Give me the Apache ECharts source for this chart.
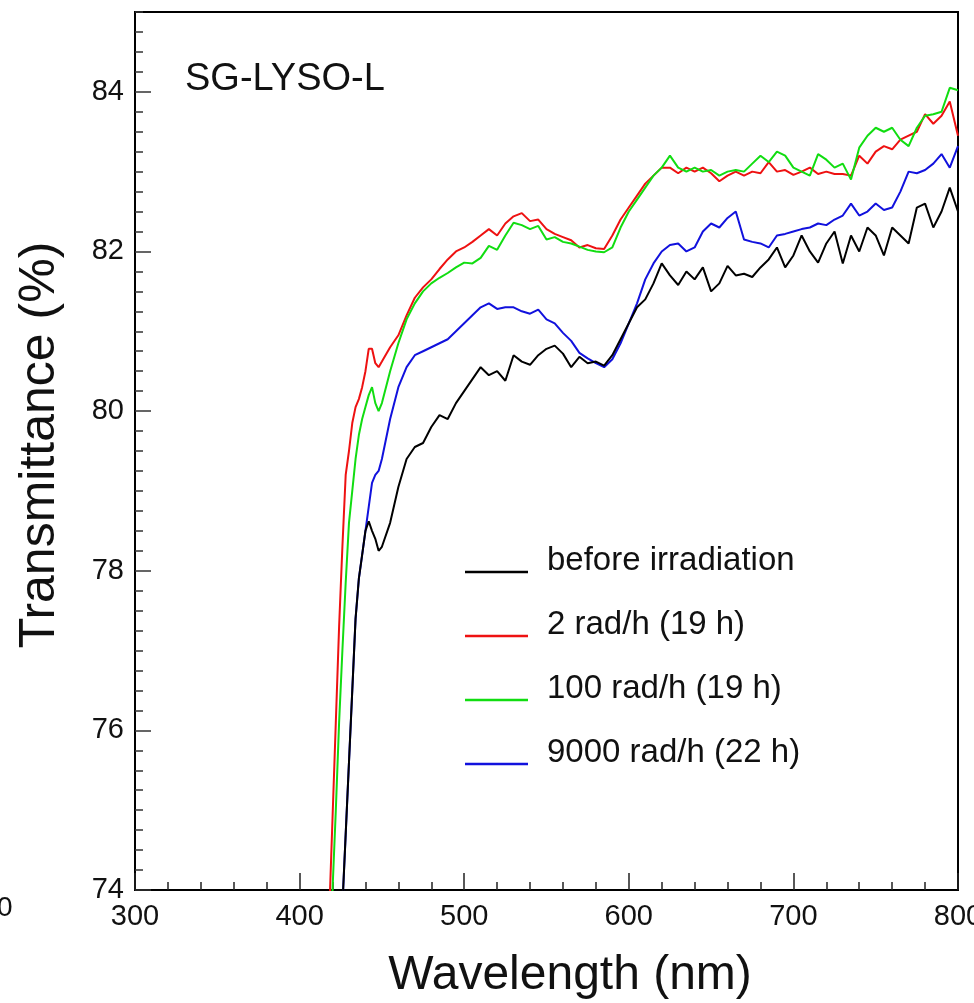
<!DOCTYPE html>
<html>
<head>
<meta charset="utf-8">
<script src="https://cdn.jsdelivr.net/npm/echarts@6/dist/echarts.min.js"></script>
<style>html,body{margin:0;padding:0;background:#fff;}#c{width:974px;height:1003px;}</style>
</head>
<body>
<div id="c"></div>
<script>
// Wavelength grid (nm)
var wavelength = [416,418,420,422,424,426,428,430,432,434,436,438,440,442,444,446,448,450,
  455,460,465,470,475,480,485,490,495,500,505,510,515,520,525,530,535,540,545,550,555,560,565,570,575,580,585,590,595,600,
  605,610,615,620,625,630,635,640,645,650,655,660,665,670,675,680,685,690,695,700,705,710,715,720,725,730,735,740,745,750,
  755,760,765,770,775,780,785,790,795,800];

var seriesNames = ['before irradiation', '2 rad/h (19 h)', '100 rad/h (19 h)', '9000 rad/h (22 h)'];

var beforeIrr = [68.0,69.0,70.0,71.0,72.8,73.8,74.7,75.6,76.5,77.4,77.9,78.2,78.5,78.62,78.5,78.4,78.25,78.3,
  78.6,79.05,79.4,79.55,79.6,79.8,79.95,79.9,80.1,80.25,80.4,80.55,80.45,80.5,80.38,80.7,80.62,80.58,80.7,80.78,80.82,80.72,80.55,80.68,80.6,80.62,80.57,80.7,80.9,81.1,
  81.3,81.4,81.6,81.85,81.7,81.58,81.75,81.65,81.8,81.5,81.6,81.82,81.7,81.72,81.68,81.8,81.9,82.05,81.8,81.95,82.2,82.0,81.86,82.1,82.25,81.85,82.2,82.0,82.3,82.2,
  81.95,82.3,82.2,82.1,82.55,82.6,82.3,82.5,82.8,82.5];

var rad2 = [72.5,73.7,74.9,76.1,77.3,78.3,79.2,79.5,79.85,80.05,80.15,80.3,80.5,80.78,80.78,80.6,80.55,80.62,
  80.8,80.95,81.2,81.42,81.55,81.65,81.78,81.9,82.0,82.05,82.12,82.2,82.28,82.2,82.35,82.44,82.48,82.38,82.4,82.28,82.22,82.18,82.14,82.05,82.08,82.04,82.03,82.2,82.4,82.55,
  82.7,82.85,82.95,83.05,83.05,82.98,83.05,83.0,83.05,82.98,82.88,82.95,83.0,82.95,83.0,82.98,83.12,83.0,83.02,82.96,83.0,83.05,82.97,83.0,82.97,82.97,82.95,83.2,83.1,83.25,
  83.32,83.28,83.4,83.45,83.5,83.72,83.6,83.7,83.88,83.45];

var rad100 = [71.8,73.0,74.0,75.0,76.1,77.0,77.85,78.6,79.0,79.4,79.7,79.9,80.05,80.2,80.3,80.1,80.0,80.1,
  80.5,80.85,81.15,81.35,81.5,81.6,81.67,81.73,81.8,81.86,81.85,81.92,82.07,82.02,82.2,82.36,82.33,82.28,82.32,82.15,82.18,82.12,82.1,82.06,82.02,82.0,81.99,82.05,82.3,82.5,
  82.65,82.8,82.95,83.05,83.2,83.05,83.0,83.05,83.0,83.02,82.95,83.0,83.02,83.0,83.1,83.2,83.12,83.25,83.2,83.05,83.0,82.95,83.22,83.15,83.05,83.1,82.9,83.3,83.45,83.55,
  83.5,83.55,83.4,83.32,83.55,83.7,83.72,83.75,84.05,84.02];

var rad9000 = [68.0,69.0,70.0,71.0,72.8,73.8,74.7,75.6,76.5,77.4,77.9,78.2,78.5,78.8,79.1,79.2,79.25,79.4,
  79.9,80.3,80.55,80.7,80.75,80.8,80.85,80.9,81.0,81.1,81.2,81.3,81.35,81.28,81.3,81.3,81.25,81.22,81.27,81.15,81.1,80.98,80.88,80.73,80.66,80.6,80.55,80.65,80.85,81.1,
  81.35,81.65,81.85,82.0,82.08,82.1,82.0,82.05,82.25,82.35,82.3,82.42,82.5,82.15,82.12,82.1,82.05,82.2,82.22,82.25,82.28,82.3,82.35,82.33,82.4,82.45,82.6,82.45,82.5,82.6,
  82.52,82.55,82.75,83.0,82.98,83.02,83.1,83.22,83.05,83.32];

var xTicks = {min: 300, max: 800, step: 100};
var yTicks = {min: 74, max: 85, step: 2};
var colors = ['#000000', '#ee1111', '#11dd11', '#1111dd'];

function pairs(vals) { return wavelength.map(function (w, i) { return [w, vals[i]]; }); }

var chart = echarts.init(document.getElementById('c'), null, {renderer: 'canvas'});
var FONT = 'Liberation Sans, Arial, Helvetica, sans-serif';
var legendIcon = 'path://M0,0 M63,0 M0,23 L63,23 L63,25.5 L0,25.5 Z';

chart.setOption({
  animation: false,
  backgroundColor: '#ffffff',
  grid: {left: 135, right: 16, top: 12, bottom: 113, show: true, borderColor: '#000', borderWidth: 2,
         backgroundColor: 'transparent', containLabel: false, outerBoundsMode: 'none'},
  xAxis: [{
    type: 'value', min: xTicks.min, max: xTicks.max, interval: xTicks.step, position: 'bottom',
    axisLine: {lineStyle: {color: '#000', width: 2}},
    axisTick: {inside: true, length: 17, lineStyle: {color: '#222', width: 1.5}},
    minorTick: {show: true, splitNumber: 5, length: 8, lineStyle: {color: '#222', width: 1.5}},
    axisLabel: {fontSize: 29, color: '#111', margin: 12, fontFamily: FONT},
    splitLine: {show: false}, minorSplitLine: {show: false}
  }],
  yAxis: [{
    type: 'value', min: yTicks.min, max: yTicks.max, interval: yTicks.step, position: 'left',
    axisLine: {show: true, lineStyle: {color: '#000', width: 2}},
    axisTick: {show: true, inside: true, length: 16, lineStyle: {color: '#333', width: 1.5}},
    axisLabel: {fontSize: 29, color: '#111', margin: 11, fontFamily: FONT, showMaxLabel: false},
    splitLine: {show: false}
  }, {
    type: 'value', min: yTicks.min, max: yTicks.max, interval: 0.25, position: 'left', offset: 0,
    axisLine: {show: false},
    axisTick: {show: true, inside: true, length: 8, lineStyle: {color: '#333', width: 1.5}},
    axisLabel: {show: false},
    splitLine: {show: false}
  }],
  legend: {
    orient: 'vertical', left: 465, top: 544, padding: 0,
    itemWidth: 63, itemHeight: 25.5, itemGap: 31, icon: legendIcon,
    textStyle: {fontSize: 33, color: '#111', fontFamily: FONT, lineHeight: 31, padding: [0, 0, 0, 14]},
    data: seriesNames,
    selectedMode: false
  },
  graphic: [
    {type: 'text', left: 185, top: 61, style: {text: 'SG-LYSO-L', font: '38px ' + FONT, fill: '#111'}},
    {type: 'text', x: 40, y: 445, rotation: Math.PI / 2, style: {text: 'Transmittance (%)', font: '50px ' + FONT, fill: '#111', align: 'center', verticalAlign: 'middle'}},
    {type: 'text', x: 570, y: 976, style: {text: 'Wavelength (nm)', font: '48px ' + FONT, fill: '#111', align: 'center', verticalAlign: 'middle'}},
    {type: 'text', x: -3, y: 908, style: {text: '0', font: '28px ' + FONT, fill: '#111', verticalAlign: 'middle'}}
  ],
  series: [
    {name: seriesNames[0], type: 'line', data: pairs(beforeIrr), showSymbol: false, clip: true, color: colors[0], lineStyle: {width: 2, color: colors[0]}, z: 5},
    {name: seriesNames[1], type: 'line', data: pairs(rad2), showSymbol: false, clip: true, color: colors[1], lineStyle: {width: 2, color: colors[1]}, z: 3},
    {name: seriesNames[2], type: 'line', data: pairs(rad100), showSymbol: false, clip: true, color: colors[2], lineStyle: {width: 2, color: colors[2]}, z: 4},
    {name: seriesNames[3], type: 'line', data: pairs(rad9000), showSymbol: false, clip: true, color: colors[3], lineStyle: {width: 2, color: colors[3]}, z: 2}
  ]
});
</script>
</body>
</html>
